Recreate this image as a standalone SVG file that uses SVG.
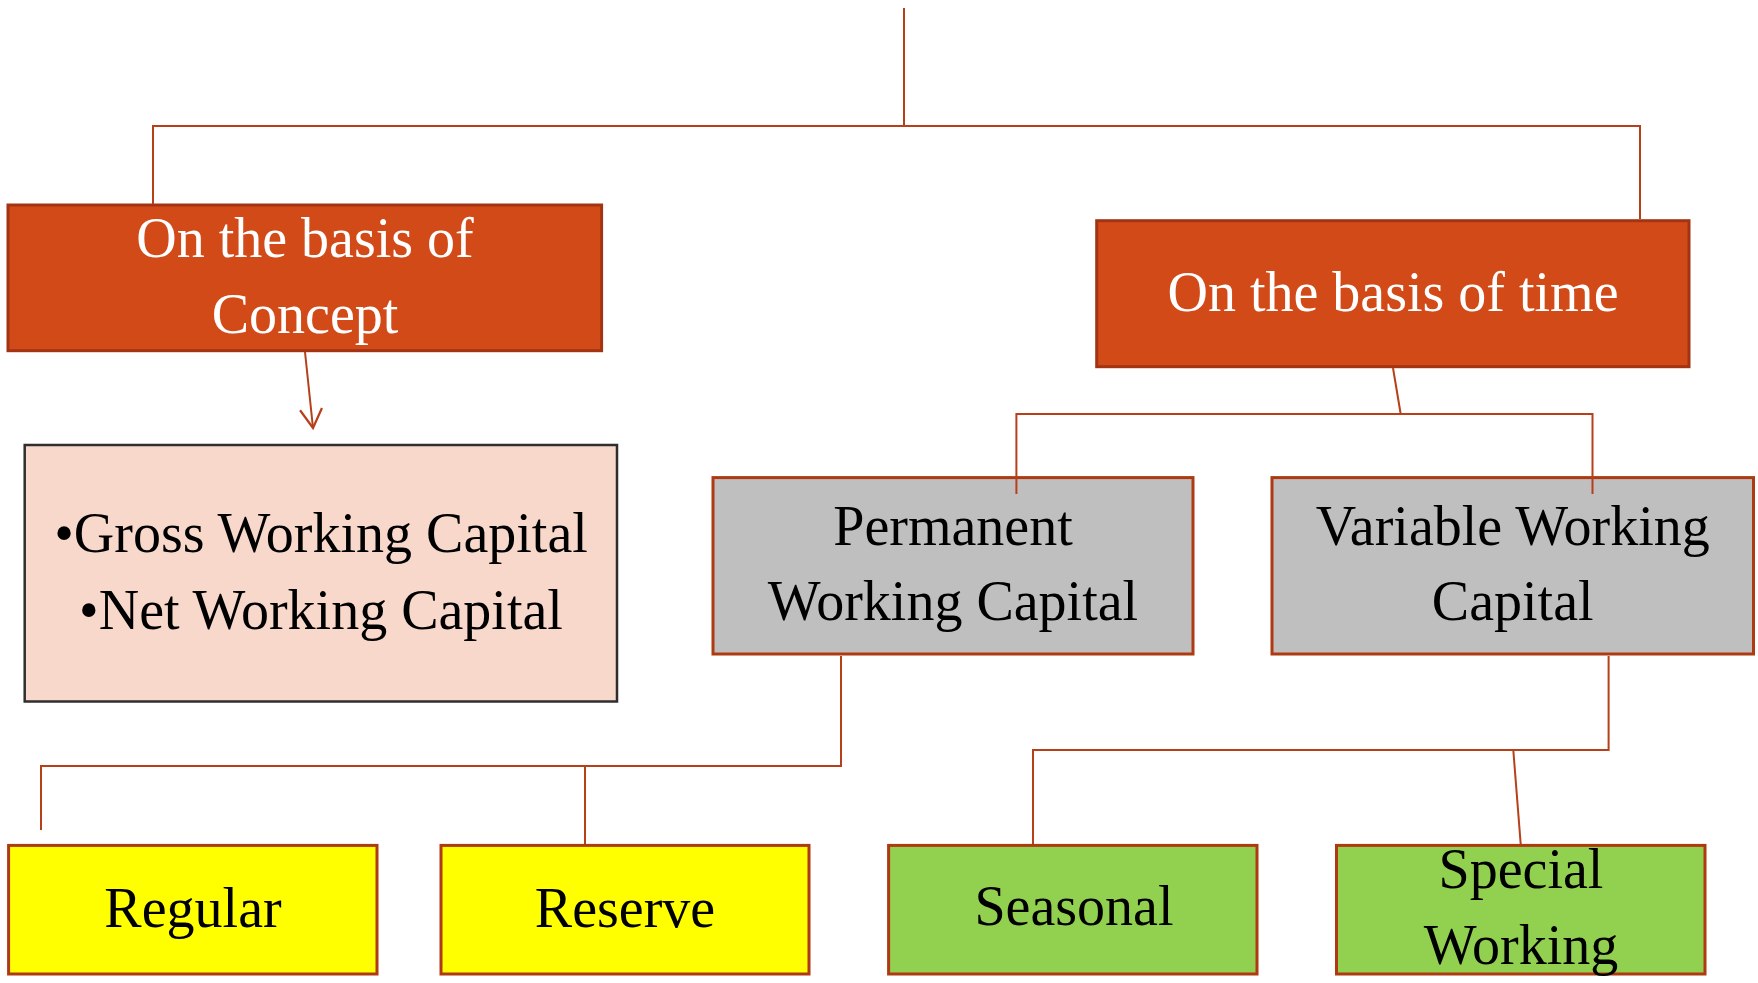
<svg xmlns="http://www.w3.org/2000/svg" width="1758" height="983" viewBox="0 0 1758 983">
<style>
.con{fill:none;stroke:#B5401A;stroke-width:2}
.t{font-family:"Liberation Serif","Times New Roman",serif;font-size:56px;text-anchor:middle}
.w{fill:#FFFFFF}
.k{fill:#000000}
.orange{fill:#D24A18;stroke:#A33413;stroke-width:3}
.pink{fill:#F8D8CB;stroke:#2E2E2E;stroke-width:2.5}
.gray{fill:#BFBFBF;stroke:#AE3A12;stroke-width:3}
.yellow{fill:#FFFF00;stroke:#AE3A12;stroke-width:3}
.green{fill:#92D050;stroke:#AE3A12;stroke-width:3}
</style>
<defs>
<marker id="arr" viewBox="-2 -13 24 26" refX="19" refY="0" markerWidth="24" markerHeight="26" markerUnits="userSpaceOnUse" orient="auto">
<path d="M0,-11 L19,0 L0,11" fill="none" stroke="#B5401A" stroke-width="2.2"/>
</marker>
</defs>
<rect width="1758" height="983" fill="#FFFFFF"/>
<g id="concept">
<rect class="orange" x="8" y="205" width="593.6" height="145.7"/>
<text class="t w" x="305" y="257">On the basis of</text>
<text class="t w" x="305" y="333">Concept</text>
</g>
<g id="time">
<rect class="orange" x="1096.7" y="220.7" width="592.3" height="146"/>
<text class="t w" x="1393" y="311">On the basis of time</text>
</g>
<g id="concept-list">
<rect class="pink" x="24.7" y="445" width="592.3" height="256.5"/>
<text class="t k" x="321" y="551.6">•Gross Working Capital</text>
<text class="t k" x="321" y="629">•Net Working Capital</text>
</g>
<g id="permanent">
<rect class="gray" x="713" y="477.6" width="480" height="176.4"/>
<text class="t k" x="953" y="544.6">Permanent</text>
<text class="t k" x="953" y="620.4">Working Capital</text>
</g>
<g id="variable">
<rect class="gray" x="1272" y="477.6" width="481.5" height="176.4"/>
<text class="t k" x="1512.7" y="544.6">Variable Working</text>
<text class="t k" x="1512.7" y="620.4">Capital</text>
</g>
<g id="regular">
<rect class="yellow" x="8.6" y="845.4" width="368.4" height="128.6"/>
<text class="t k" x="193" y="927">Regular</text>
</g>
<g id="reserve">
<rect class="yellow" x="441" y="845.4" width="368" height="128.6"/>
<text class="t k" x="625" y="927">Reserve</text>
</g>
<g id="seasonal">
<rect class="green" x="888.6" y="845.4" width="368.4" height="128.6"/>
<text class="t k" x="1074" y="925.4">Seasonal</text>
</g>
<g id="special">
<rect class="green" x="1336.5" y="845.4" width="368.5" height="128.6"/>
<text class="t k" x="1521" y="888">Special</text>
<text class="t k" x="1521" y="964">Working</text>
</g>
<g id="connectors">
<path class="con" d="M904,8 V126"/>
<path class="con" d="M153,204 V126 H1640 V219"/>
<path class="con" d="M305,352 L313,428" marker-end="url(#arr)"/>
<path class="con" d="M1393,368 L1400.7,414"/>
<path class="con" d="M1016.4,494 V414 H1592.5 V494"/>
<path class="con" d="M841,656 V766 H41 V830"/>
<path class="con" d="M585,766 V844"/>
<path class="con" d="M1608.6,656 V750 H1033 V844"/>
<path class="con" d="M1513.3,750 L1520.7,844"/>
</g>
</svg>
